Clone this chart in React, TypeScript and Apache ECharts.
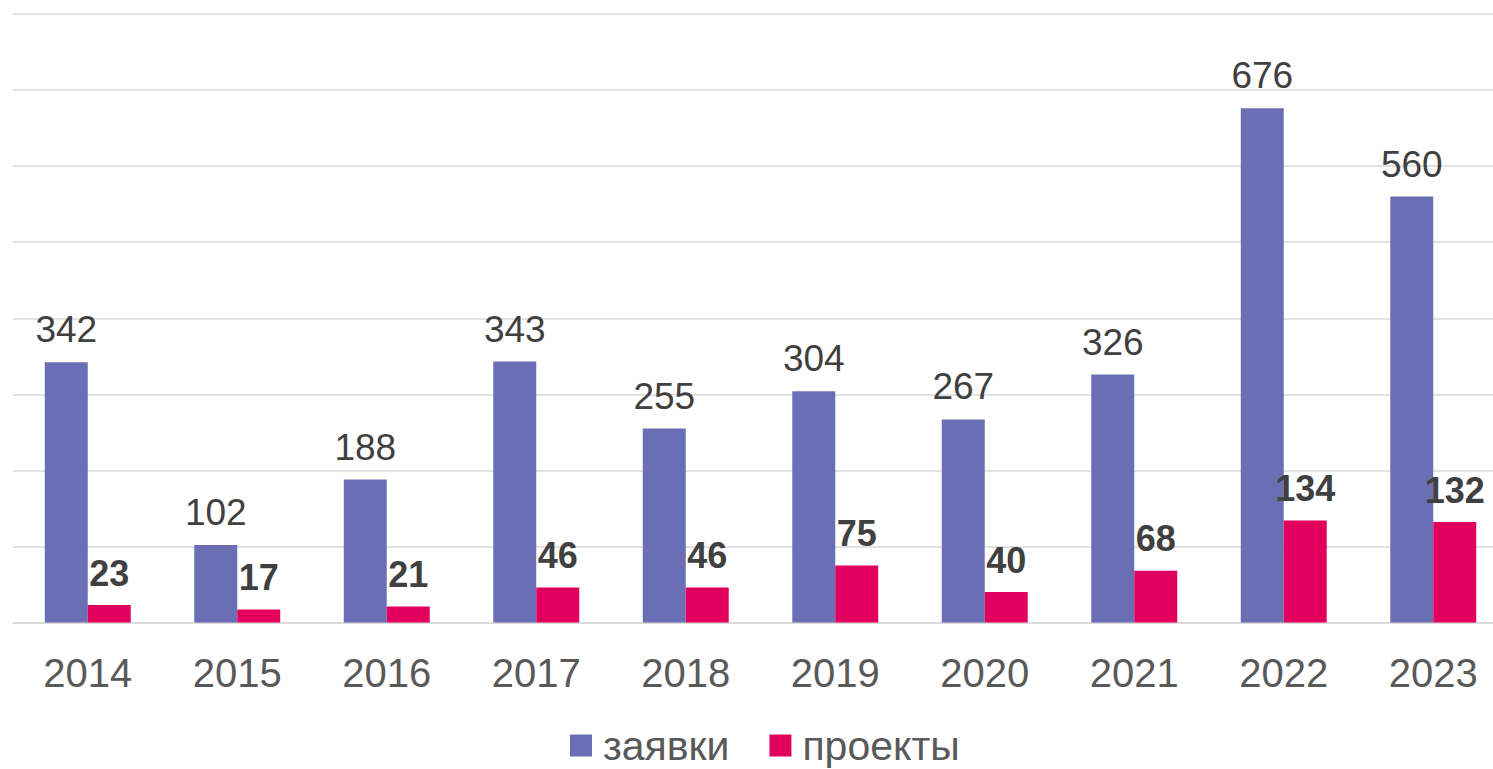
import React, { useEffect, useRef } from "react";
import * as echarts from "echarts";

const years = ["2014", "2015", "2016", "2017", "2018", "2019", "2020", "2021", "2022", "2023"];
const applications = [342, 102, 188, 343, 255, 304, 267, 326, 676, 560];
const projects = [23, 17, 21, 46, 46, 75, 40, 68, 134, 132];
const seriesNames = ["заявки", "проекты"];

const FONT = "'Liberation Sans', Arial, sans-serif";

export default function App() {
  const ref = useRef<HTMLDivElement>(null);
  useEffect(() => {
    if (!ref.current) return;
    const chart = echarts.init(ref.current, null, { renderer: "svg" });
    chart.setOption({
      animation: false,
      textStyle: { fontFamily: FONT },
      grid: { left: 13, right: 2, top: 14, bottom: 146.5, containLabel: false },
      legend: {
        left: 570,
        top: 725,
        padding: 0,
        itemWidth: 22,
        itemHeight: 22,
        itemGap: 40,
        icon: "rect",
        textStyle: { fontSize: 41, color: "#595959", fontFamily: FONT, padding: [0, 0, 0, 6] },
        data: seriesNames,
      },
      xAxis: {
        type: "category",
        data: years,
        axisLine: { show: true, lineStyle: { color: "#d9d9d9", width: 1.5 } },
        axisTick: { show: false },
        axisLabel: { fontSize: 40, color: "#595959", margin: 30, fontFamily: FONT },
      },
      yAxis: {
        type: "value",
        min: 0,
        max: 800,
        interval: 100,
        axisLabel: { show: false },
        axisLine: { show: false },
        axisTick: { show: false },
        splitLine: { lineStyle: { color: "#d9d9d9", width: 1.5 } },
      },
      series: [
        {
          name: seriesNames[0],
          type: "bar",
          data: applications,
          barGap: "0%",
          barCategoryGap: "42.5%",
          itemStyle: { color: "#6A6FB4" },
          label: {
            show: true,
            position: "top",
            distance: 14,
            fontSize: 37,
            color: "#404040",
            fontFamily: FONT,
          },
        },
        {
          name: seriesNames[1],
          type: "bar",
          data: projects,
          barGap: "0%",
          barCategoryGap: "42.5%",
          itemStyle: { color: "#E2005F" },
          label: {
            show: true,
            position: "top",
            distance: 14,
            fontSize: 36,
            fontWeight: "bold",
            color: "#404040",
            fontFamily: FONT,
          },
        },
      ],
    });
    return () => chart.dispose();
  }, []);
  return (
    <div style={{ position: "absolute", left: 0, top: 0, width: 1493, height: 769, overflow: "hidden", background: "#fff" }}>
      <div ref={ref} style={{ position: "absolute", left: 0, top: 0, width: 1510, height: 769 }} />
    </div>
  );
}
